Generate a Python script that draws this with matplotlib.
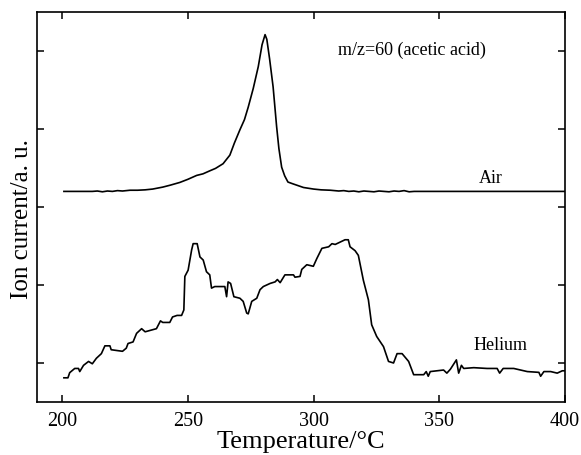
import matplotlib
matplotlib.use("Agg")
import matplotlib.pyplot as plt

# temperature (C) and ion current (a.u., offset)
air_temp = [200.7, 205, 209, 212, 214, 216, 218, 220, 222, 224, 227, 230, 233, 236, 240,
            243, 246.8, 250, 253.5, 256, 258.8, 261, 264, 266.7, 268.5, 270.7, 272.5, 274,
            276, 278, 279.5, 280.7, 281.4, 282.5, 283.9, 285.3, 286.2, 287.3, 288.5, 289.8,
            291.5, 293.3, 296, 300, 303, 306.7, 310, 312, 314, 316, 318, 320, 322, 324, 326,
            328, 330, 332, 334, 336, 338, 340, 400]
air_signal = [3.2, 3.2, 3.2, 3.2, 3.205, 3.195, 3.205, 3.2, 3.21, 3.205, 3.215, 3.215, 3.22,
              3.23, 3.255, 3.28, 3.315, 3.355, 3.405, 3.425, 3.465, 3.495, 3.555, 3.665, 3.82,
              3.99, 4.12, 4.28, 4.52, 4.8, 5.08, 5.21, 5.15, 4.9, 4.54, 4.03, 3.75, 3.51, 3.4,
              3.32, 3.3, 3.28, 3.25, 3.23, 3.22, 3.215, 3.205, 3.21, 3.2, 3.205, 3.195, 3.205,
              3.2, 3.195, 3.205, 3.2, 3.195, 3.205, 3.2, 3.21, 3.195, 3.2, 3.2]

he_temp = [200.7, 202.3, 203, 205, 206.5, 207, 208.5, 210.5, 212, 213.6, 215.6, 217, 219,
           219.5, 224, 225.5, 226.2, 228.2, 229.6, 231.6, 233, 237.5, 239.1, 240, 242.8, 243.9,
           245.7, 247.5, 248.4, 248.8, 250.1, 251.5, 252.1, 253.7, 254.8, 256.1, 257.4, 258.7,
           259.4, 260.7, 264.7, 265.4, 266, 267, 268.3, 270.7, 272, 273.4, 274, 275.4, 277.4,
           278.7, 280, 282.7, 284.7, 285.6, 286.7, 288.6, 292, 292.6, 294.6, 295.3, 297.3,
           299.9, 301.3, 303.3, 306, 307.3, 308.6, 309.9, 312.5, 313.8, 314.5, 316.5, 317.8,
           319.8, 321.8, 323.1, 325.1, 327.8, 329.8, 331.8, 333.2, 335.2, 337.8, 339.8, 343.8,
           344.8, 345.6, 346.4, 351.7, 353, 354.4, 356.8, 357.7, 358.8, 359.7, 363.7, 369, 373,
           374, 375.4, 379.6, 382.3, 385, 389.6, 390.3, 391.6, 394.3, 396.9, 398.9, 400]
he_signal = [0.81, 0.81, 0.876, 0.93, 0.93, 0.89, 0.97, 1.02, 0.99, 1.06, 1.12, 1.22, 1.22,
             1.17, 1.15, 1.19, 1.25, 1.27, 1.38, 1.44, 1.4, 1.44, 1.54, 1.52, 1.52, 1.59, 1.61,
             1.61, 1.68, 2.11, 2.19, 2.45, 2.53, 2.53, 2.36, 2.32, 2.17, 2.13, 1.96, 1.98, 1.98,
             1.85, 2.04, 2.02, 1.85, 1.83, 1.79, 1.64, 1.63, 1.79, 1.83, 1.94, 1.98, 2.02, 2.04,
             2.07, 2.03, 2.13, 2.13, 2.1, 2.11, 2.2, 2.26, 2.24, 2.34, 2.47, 2.49, 2.53, 2.52,
             2.54, 2.58, 2.58, 2.49, 2.44, 2.38, 2.06, 1.81, 1.49, 1.34, 1.21, 1.02, 1.0, 1.12,
             1.12, 1.02, 0.85, 0.85, 0.89, 0.83, 0.89, 0.91, 0.87, 0.92, 1.04, 0.87, 0.97, 0.93,
             0.94, 0.93, 0.93, 0.87, 0.93, 0.93, 0.91, 0.89, 0.88, 0.83, 0.89, 0.89, 0.87, 0.9,
             0.9]

x_ticks = [200, 250, 300, 350, 400]
y_ticks = [1, 2, 3, 4, 5]

plt.rcParams["font.family"] = ["Liberation Serif", "DejaVu Serif"]

fig = plt.figure(figsize=(5.81, 4.55), dpi=100)
ax = fig.add_axes([0.0637, 0.1165, 0.9088, 0.8571])

ax.plot(air_temp, air_signal, color="black", lw=1.2)
ax.plot(he_temp, he_signal, color="black", lw=1.2)

ax.set_xlim(190, 400)
ax.set_ylim(0.5, 5.5)
ax.set_xticks(x_ticks)
ax.set_yticks(y_ticks)
ax.set_yticklabels([])
ax.tick_params(direction="in", length=5, width=1.1, top=True, right=True,
               labelsize=14.5, pad=7)
for s in ax.spines.values():
    s.set_linewidth(1.2)

ax.set_xlabel("Temperature/°C", fontsize=19, labelpad=0)
ax.set_ylabel("Ion current/a. u.", fontsize=18)
ax.yaxis.set_label_coords(-0.008, 0.469)

ax.text(309.8, 5.01, "m/z=60 (acetic acid)", fontsize=13, va="center", ha="left")
ax.text(370.3, 3.37, "Air", fontsize=13, va="center", ha="center")
ax.text(363.5, 1.22, "Helium", fontsize=13, va="center", ha="left")

fig.savefig("out.png", dpi=100)
